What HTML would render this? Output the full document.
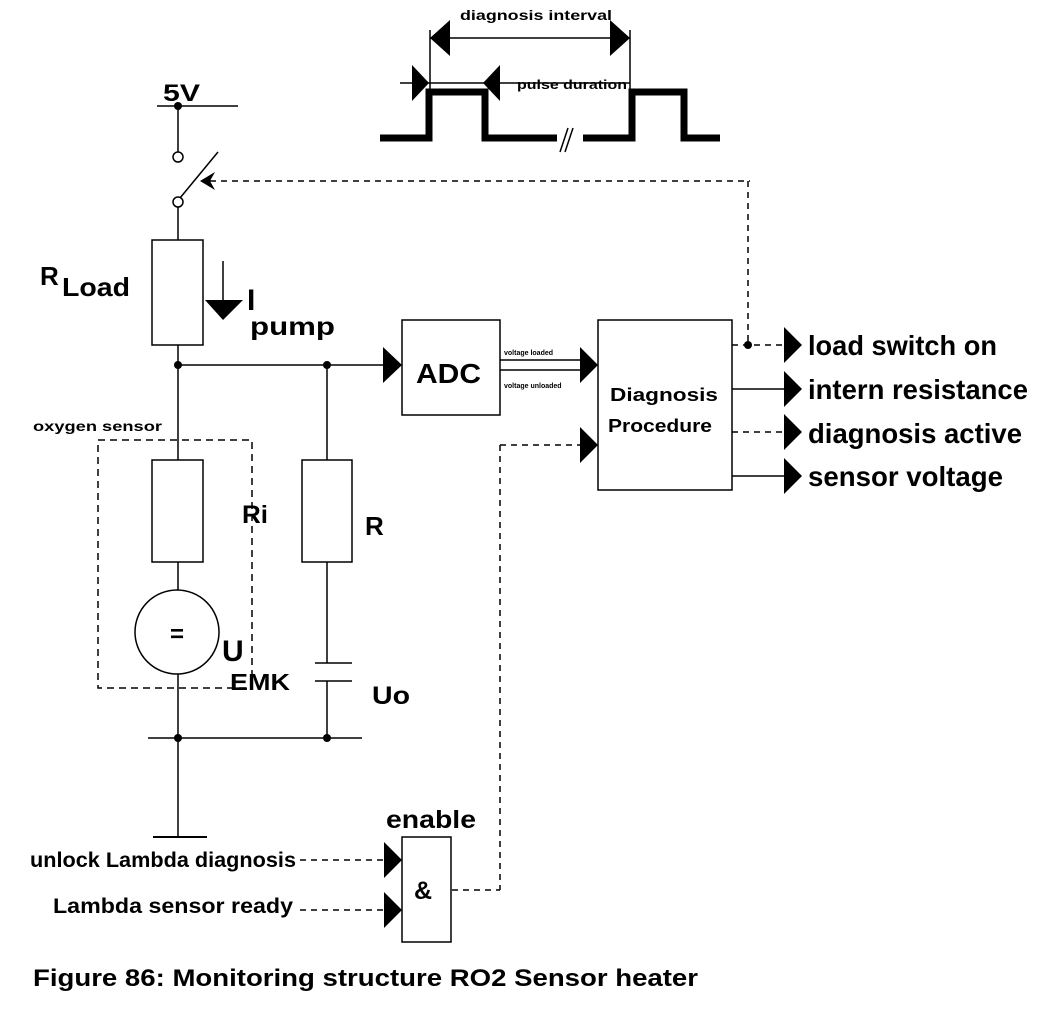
<!DOCTYPE html>
<html><head><meta charset="utf-8"><style>
html,body{margin:0;padding:0;background:#fff}
svg{display:block}
text{font-family:"Liberation Sans",sans-serif;fill:#000}
</style></head><body>
<svg width="1056" height="1010" viewBox="0 0 1056 1010" xmlns="http://www.w3.org/2000/svg">
<g stroke="#000" fill="none" stroke-width="1.5">
<polyline points="380,138 429,138 429,92 485,92 485,138 557,138" stroke-width="7"/>
<polyline points="583,138 632,138 632,92 684,92 684,138 720,138" stroke-width="7"/>
<line x1="560" y1="152" x2="568" y2="128" stroke-width="1.5"/>
<line x1="565" y1="152" x2="573" y2="128" stroke-width="1.5"/>
<line x1="430" y1="30" x2="430" y2="90"/>
<line x1="630" y1="30" x2="630" y2="90"/>
<line x1="430" y1="38" x2="630" y2="38"/>
<line x1="400" y1="83" x2="630" y2="83"/>
<line x1="157" y1="106" x2="238" y2="106"/>
<line x1="178" y1="106" x2="178" y2="152"/>
<circle cx="178" cy="157" r="5"/>
<circle cx="178" cy="202" r="5"/>
<line x1="180" y1="198" x2="218" y2="152"/>
<line x1="178" y1="207" x2="178" y2="240"/>
<line x1="210" y1="181" x2="750" y2="181" stroke-dasharray="6,5"/>
<line x1="748" y1="181" x2="748" y2="345" stroke-dasharray="6,5"/>
<rect x="152" y="240" width="51" height="105"/>
<line x1="223" y1="261" x2="223" y2="302"/>
<line x1="178" y1="345" x2="178" y2="460"/>
<line x1="178" y1="365" x2="385" y2="365"/>
<line x1="327" y1="365" x2="327" y2="460"/>
<rect x="402" y="320" width="98" height="95"/>
<line x1="500" y1="360" x2="582" y2="360"/>
<line x1="500" y1="370" x2="582" y2="370"/>
<rect x="598" y="320" width="134" height="170"/>
<line x1="500" y1="445" x2="582" y2="445" stroke-dasharray="6,5"/>
<line x1="500" y1="445" x2="500" y2="890" stroke-dasharray="6,5"/>
<line x1="452" y1="890" x2="500" y2="890" stroke-dasharray="6,5"/>
<line x1="732" y1="345" x2="786" y2="345" stroke-dasharray="6,5"/>
<line x1="732" y1="389" x2="786" y2="389"/>
<line x1="732" y1="432" x2="786" y2="432" stroke-dasharray="6,5"/>
<line x1="732" y1="476" x2="786" y2="476"/>
<rect x="98" y="440" width="154" height="248" stroke-dasharray="7,5"/>
<rect x="152" y="460" width="51" height="102"/>
<line x1="178" y1="562" x2="178" y2="590"/>
<circle cx="177" cy="632" r="42"/>
<line x1="178" y1="674" x2="178" y2="837"/>
<line x1="148" y1="738" x2="362" y2="738"/>
<line x1="153" y1="837" x2="207" y2="837" stroke-width="2"/>
<rect x="302" y="460" width="50" height="102"/>
<line x1="327" y1="562" x2="327" y2="663"/>
<line x1="315" y1="663" x2="352" y2="663"/>
<line x1="315" y1="681" x2="352" y2="681"/>
<line x1="327" y1="681" x2="327" y2="738"/>
<rect x="402" y="837" width="49" height="105"/>
<line x1="300" y1="860" x2="385" y2="860" stroke-dasharray="6,5"/>
<line x1="300" y1="910" x2="385" y2="910" stroke-dasharray="6,5"/>
</g>
<g fill="#000">
<polygon points="430,38 450,20 450,56"/>
<polygon points="630,38 610,20 610,56"/>
<polygon points="429,83 412,65 412,101"/>
<polygon points="483,83 500,65 500,101"/>
<polygon points="200,181 215,172 210,181 215,190"/>
<polygon points="205,300 243,300 223,320"/>
<circle cx="178" cy="106" r="4"/>
<circle cx="178" cy="365" r="4"/>
<circle cx="327" cy="365" r="4"/>
<circle cx="178" cy="738" r="4"/>
<circle cx="327" cy="738" r="4"/>
<circle cx="748" cy="345" r="4"/>
<polygon points="402,365 383,347 383,383"/>
<polygon points="598,365 580,347 580,383"/>
<polygon points="598,445 580,427 580,463"/>
<polygon points="802,345 784,327 784,363"/>
<polygon points="802,389 784,371 784,407"/>
<polygon points="802,432 784,414 784,450"/>
<polygon points="802,476 784,458 784,494"/>
<polygon points="402,860 384,842 384,878"/>
<polygon points="402,910 384,892 384,928"/>
</g>
<g font-weight="bold">
<text x="460" y="20" font-size="14" textLength="152" lengthAdjust="spacingAndGlyphs">diagnosis interval</text>
<text x="517" y="89" font-size="13" textLength="110" lengthAdjust="spacingAndGlyphs">pulse duration</text>
<text x="163" y="101" font-size="24" textLength="37" lengthAdjust="spacingAndGlyphs">5V</text>
<text x="40" y="285" font-size="26">R</text>
<text x="62" y="296" font-size="26" textLength="68" lengthAdjust="spacingAndGlyphs">Load</text>
<text x="247" y="310" font-size="30">I</text>
<text x="250" y="335" font-size="25" textLength="85" lengthAdjust="spacingAndGlyphs">pump</text>
<text x="416" y="383" font-size="28" textLength="65" lengthAdjust="spacingAndGlyphs">ADC</text>
<text x="504" y="355" font-size="7">voltage loaded</text>
<text x="504" y="388" font-size="7">voltage unloaded</text>
<text x="610" y="401" font-size="18" textLength="108" lengthAdjust="spacingAndGlyphs">Diagnosis</text>
<text x="608" y="432" font-size="18" textLength="104" lengthAdjust="spacingAndGlyphs">Procedure</text>
<text x="808" y="355" font-size="28" textLength="189" lengthAdjust="spacingAndGlyphs">load switch on</text>
<text x="808" y="399" font-size="28" textLength="220" lengthAdjust="spacingAndGlyphs">intern resistance</text>
<text x="808" y="443" font-size="28" textLength="214" lengthAdjust="spacingAndGlyphs">diagnosis active</text>
<text x="808" y="486" font-size="28" textLength="195" lengthAdjust="spacingAndGlyphs">sensor voltage</text>
<text x="33" y="431" font-size="14" textLength="129" lengthAdjust="spacingAndGlyphs">oxygen sensor</text>
<text x="242" y="523" font-size="25" textLength="26" lengthAdjust="spacingAndGlyphs">Ri</text>
<text x="365" y="535" font-size="26">R</text>
<text x="177" y="642" font-size="24" text-anchor="middle">=</text>
<text x="222" y="661" font-size="30">U</text>
<text x="230" y="690" font-size="23" textLength="60" lengthAdjust="spacingAndGlyphs">EMK</text>
<text x="372" y="704" font-size="25" textLength="38" lengthAdjust="spacingAndGlyphs">Uo</text>
<text x="386" y="828" font-size="25" textLength="90" lengthAdjust="spacingAndGlyphs">enable</text>
<text x="423" y="899" font-size="25" text-anchor="middle">&amp;</text>
<text x="30" y="867" font-size="21" textLength="266" lengthAdjust="spacingAndGlyphs">unlock Lambda diagnosis</text>
<text x="53" y="913" font-size="21" textLength="240" lengthAdjust="spacingAndGlyphs">Lambda sensor ready</text>
<text x="33" y="986" font-size="24" textLength="665" lengthAdjust="spacingAndGlyphs">Figure 86: Monitoring structure RO2 Sensor heater</text>
</g>
</svg>
</body></html>
